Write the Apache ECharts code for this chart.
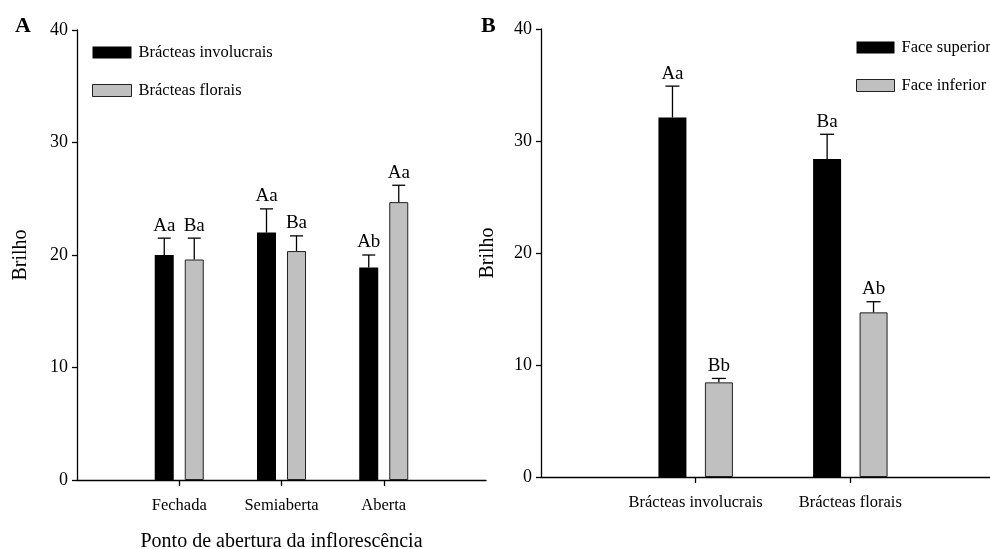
<!DOCTYPE html>
<html>
<head>
<meta charset="utf-8">
<script src="https://cdn.jsdelivr.net/npm/echarts@6/dist/echarts.min.js"></script>
<style>
  html, body { margin: 0; padding: 0; background: #fff; }
  #chart { width: 990px; height: 549px; }
</style>
</head>
<body>
<div id="chart"></div>
<script>
(()=>{
  // panel A
  const catsA = ['Fechada', 'Semiaberta', 'Aberta'];
  const involucraisA = [20.0, 22.0, 18.9];
  const involucraisErrA = [21.5, 24.1, 20.0];
  const involucraisLblA = ['Aa', 'Aa', 'Ab'];
  const floraisA = [19.6, 20.35, 24.7];
  const floraisErrA = [21.5, 21.7, 26.2];
  const floraisLblA = ['Ba', 'Ba', 'Aa'];

  // panel B
  const catsB = ['Brácteas involucrais', 'Brácteas florais'];
  const superiorB = [32.1, 28.4];
  const superiorErrB = [34.9, 30.6];
  const superiorLblB = ['Aa', 'Ba'];
  const inferiorB = [8.45, 14.7];
  const inferiorErrB = [8.8, 15.65];
  const inferiorLblB = ['Bb', 'Ab'];

  const yTicks = [0, 10, 20, 30, 40];

  const FONT = '"Liberation Serif", "Times New Roman", serif';
  const GRAY = '#c0c0c0';

  // pad categories with empty slots at both ends (axis runs past the bars)
  const pad = (c)=>[''].concat(c, ['']);

  const errSeries = (name, vals, errs, lbls, xi, offset, cap)=>({
    name,
    type: 'custom',
    xAxisIndex: xi,
    yAxisIndex: xi,
    z: 5,
    data: vals.map((v, i)=>[i + 1, v, errs[i], lbls[i]]),
    renderItem(params, api){
      const x = api.value(0);
      const p0 = api.coord([x, api.value(1)]);
      const p1 = api.coord([x, api.value(2)]);
      const cx = p0[0] + offset;
      const st = { stroke: '#000', lineWidth: 1.3 };
      return {
        type: 'group',
        children: [
          { type: 'line', shape: { x1: cx, y1: p0[1], x2: cx, y2: p1[1] }, style: st },
          { type: 'line', shape: { x1: cx - cap / 2, y1: p1[1], x2: cx + cap / 2, y2: p1[1] }, style: st },
          { type: 'text', style: {
              text: api.value(3), x: cx, y: p1[1] - 3,
              align: 'center', verticalAlign: 'bottom',
              fontSize: 19, fontFamily: FONT, fill: '#000'
          } }
        ]
      };
    }
  });

  const yAxis = (gi)=>({
    type: 'value',
    gridIndex: gi,
    min: yTicks[0],
    max: yTicks[yTicks.length - 1],
    interval: 10,
    name: 'Brilho',
    nameLocation: 'middle',
    nameGap: gi === 0 ? 46 : 43,
    nameTextStyle: { fontFamily: FONT, fontSize: 20, color: '#000' },
    splitLine: { show: false },
    axisLine: { show: true, lineStyle: { color: '#000', width: 1.3 } },
    axisTick: { show: true, length: 5, lineStyle: { color: '#000', width: 1.3 } },
    axisLabel: { fontFamily: FONT, fontSize: 18, color: '#000', margin: 9 }
  });

  const xAxis = (gi, cats, name)=>({
    type: 'category',
    gridIndex: gi,
    data: pad(cats),
    boundaryGap: false,
    name: name,
    nameLocation: 'middle',
    nameGap: 52,
    nameTextStyle: { fontFamily: FONT, fontSize: 20, color: '#000' },
    axisLine: { show: true, lineStyle: { color: '#000', width: 1.3 } },
    axisTick: { show: true, length: 6, inside: false,
      interval: (i, v)=>v !== '',
      lineStyle: { color: '#000', width: 1.3 } },
    axisLabel: { fontFamily: FONT, fontSize: 16.5, color: '#000', margin: 17,
      interval: 0 },
    splitLine: { show: false }
  });

  const barSeries = (name, vals, xi, color, width, gap)=>({
    name,
    type: 'bar',
    xAxisIndex: xi,
    yAxisIndex: xi,
    barWidth: width,
    barGap: gap,
    data: [null].concat(vals, [null]),
    itemStyle: color === '#000'
      ? { color: '#000' }
      : { color: color, borderColor: '#222', borderWidth: 1 }
  });

  const legendBase = {
    orient: 'vertical',
    icon: 'rect',
    padding: 0,
    itemWidth: 39,
    itemHeight: 12,
    itemGap: 21,
    selectedMode: false,
    textStyle: { fontFamily: FONT, fontSize: 16.5, color: '#000', padding: [0, 0, 0, 2] }
  };

  const option = {
    animation: false,
    backgroundColor: '#fff',
    grid: [
      { left: 77, top: 30, right: 504, bottom: 69, outerBoundsMode: 'none' },
      { left: 541, top: 29, right: -15, bottom: 72, outerBoundsMode: 'none' }
    ],
    xAxis: [
      xAxis(0, catsA, 'Ponto de abertura da inflorescência'),
      xAxis(1, catsB, '')
    ],
    yAxis: [yAxis(0), yAxis(1)],
    legend: [
      Object.assign({}, legendBase, {
        left: 92, top: 44,
        data: [
          { name: 'Brácteas involucrais' },
          { name: 'Brácteas florais', itemStyle: { borderColor: '#222', borderWidth: 1 } }
        ]
      }),
      Object.assign({}, legendBase, {
        left: 856, top: 39, itemWidth: 38,
        data: [
          { name: 'Face superior' },
          { name: 'Face inferior', itemStyle: { borderColor: '#222', borderWidth: 1 } }
        ]
      })
    ],
    graphic: [
      { type: 'text', left: 15, top: 15,
        style: { text: 'A', fontFamily: FONT, fontSize: 22, fontWeight: 'bold', fill: '#000' } },
      { type: 'text', left: 481, top: 15,
        style: { text: 'B', fontFamily: FONT, fontSize: 22, fontWeight: 'bold', fill: '#000' } }
    ],
    series: [
      barSeries('Brácteas involucrais', involucraisA, 0, '#000', 19, '58%'),
      barSeries('Brácteas florais', floraisA, 0, GRAY, 19, '58%'),
      errSeries('errA1', involucraisA, involucraisErrA, involucraisLblA, 0, -15, 13),
      errSeries('errA2', floraisA, floraisErrA, floraisLblA, 0, 15, 13),

      barSeries('Face superior', superiorB, 1, '#000', 28, '66%'),
      barSeries('Face inferior', inferiorB, 1, GRAY, 28, '66%'),
      errSeries('errB1', superiorB, superiorErrB, superiorLblB, 1, -23.2, 14),
      errSeries('errB2', inferiorB, inferiorErrB, inferiorLblB, 1, 23.2, 14)
    ]
  };

  const myChart = echarts.init(document.getElementById('chart'));
  myChart.setOption(option);
})();
</script>
</body>
</html>
